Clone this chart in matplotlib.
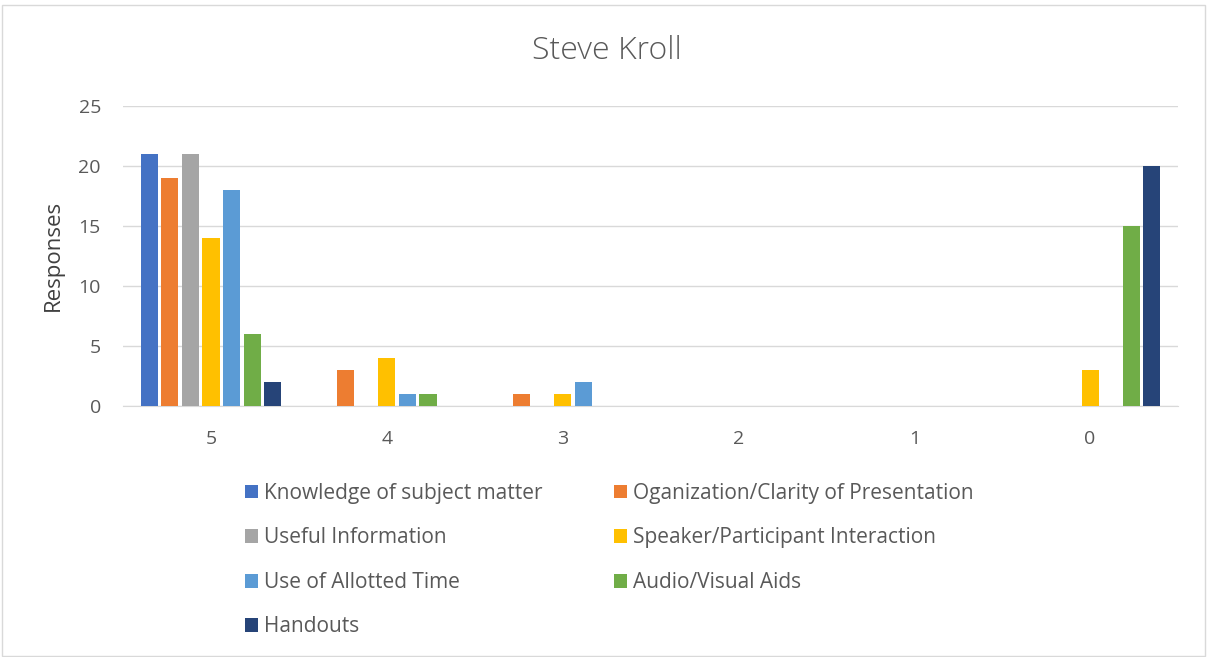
import numpy as np
import matplotlib.pyplot as plt
from matplotlib.patches import Rectangle

plt.rcParams['font.family'] = ['Open Sans', 'DejaVu Sans']

categories = ['5', '4', '3', '2', '1', '0']
series_names = ['Knowledge of subject matter', 'Oganization/Clarity of Presentation',
                'Useful Information', 'Speaker/Participant Interaction',
                'Use of Allotted Time', 'Audio/Visual Aids', 'Handouts']
knowledge = [21, 0, 0, 0, 0, 0]
organization = [19, 3, 1, 0, 0, 0]
useful = [21, 0, 0, 0, 0, 0]
speaker = [14, 4, 1, 0, 0, 3]
allotted = [18, 1, 2, 0, 0, 0]
av_aids = [6, 1, 0, 0, 0, 15]
handouts = [2, 0, 0, 0, 0, 20]
colors = ['#4472C4', '#ED7D31', '#A5A5A5', '#FFC000', '#5B9BD5', '#70AD47', '#264478']

series = [knowledge, organization, useful, speaker, allotted, av_aids, handouts]

fig = plt.figure(figsize=(12.07, 6.57), dpi=100)
ax = fig.add_axes([0.102, 0.382, 0.874, 0.457])

x = np.arange(len(categories))
step = 0.117
width = 0.097
for i, (vals, name, c) in enumerate(zip(series, series_names, colors)):
    ax.bar(x + (i - 3) * step, vals, width, color=c, label=name, zorder=3)

ax.set_xlim(-0.5, len(categories) - 0.5)
ax.set_ylim(0, 25)
ax.set_yticks(range(0, 26, 5))
ax.set_xticks(x)
ax.set_xticklabels(categories)
ax.tick_params(length=0, labelsize=14, colors='#595959')
ax.tick_params(axis='x', pad=17)
ax.tick_params(axis='y', pad=16)
ax.grid(axis='y', color='#d9d9d9', linewidth=1, zorder=0)
for s in ['top', 'right', 'left']:
    ax.spines[s].set_visible(False)
ax.spines['bottom'].set_color('#d9d9d9')
ax.set_ylabel('Responses', fontsize=16, color='#404040')
ax.yaxis.set_label_coords(-0.056, 0.5)

fig.text(0.503, 0.922, 'Steve Kroll', ha='center', va='center', fontsize=23,
         fontweight='light', color='#595959')

handles, labels = ax.get_legend_handles_labels()
order = [0, 2, 4, 6, 1, 3, 5]
fig.legend([handles[i] for i in order], [labels[i] for i in order],
           loc='upper left', bbox_to_anchor=(0.194, 0.281), ncol=2,
           frameon=False, fontsize=15, labelcolor='#595959', borderpad=0,
           handlelength=0.65, handleheight=0.65, handletextpad=0.3,
           columnspacing=3.4, labelspacing=1.13)

fig.patches.append(Rectangle((0.002, 0.002), 0.996, 0.99, transform=fig.transFigure,
                             fill=False, edgecolor='#d9d9d9', linewidth=1))

fig.savefig('out.png', dpi=100)
